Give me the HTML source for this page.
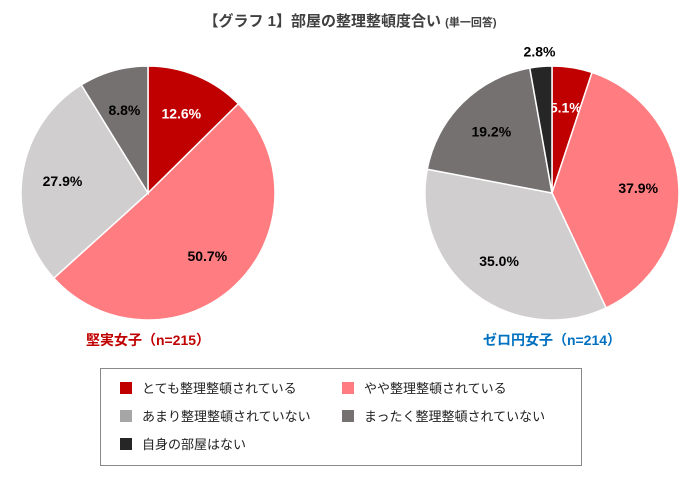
<!DOCTYPE html>
<html><head><meta charset="utf-8"><style>
body{margin:0;background:#fff;font-family:"Liberation Sans","Noto Sans CJK JP",sans-serif;}
#wrap{position:relative;width:700px;height:489px;overflow:hidden;}
.lg{position:absolute;font-size:13px;color:#222;display:flex;align-items:center;}
.lg i{display:inline-block;width:12px;height:12px;margin-right:10px;}
</style></head><body>
<div id="wrap">
<div style="position:absolute;left:0;width:700px;top:10px;text-align:center;font-weight:bold;font-size:15px;color:#404040;">【グラフ 1】部屋の整理整頓度合い <span style="font-size:11px">(単一回答)</span></div>
<svg id="svg" width="700" height="489" style="position:absolute;left:0;top:0"></svg>
<div style="position:absolute;left:48px;width:200px;top:330px;text-align:center;font-weight:bold;font-size:14px;color:#c00000;">堅実女子（n=215）</div>
<div style="position:absolute;left:452px;width:200px;top:330px;text-align:center;font-weight:bold;font-size:14px;color:#0070c0;">ゼロ円女子（n=214）</div>
<div style="position:absolute;left:100px;top:368px;width:482px;height:98px;border:1px solid #888;box-sizing:border-box;"></div>
<div class="lg" style="left:120px;top:378px"><i style="background:#c00000"></i>とても整理整頓されている</div>
<div class="lg" style="left:342px;top:378px"><i style="background:#ff7c80"></i>やや整理整頓されている</div>
<div class="lg" style="left:120px;top:406px"><i style="background:#a6a6a6"></i>あまり整理整頓されていない</div>
<div class="lg" style="left:342px;top:406px"><i style="background:#767171"></i>まったく整理整頓されていない</div>
<div class="lg" style="left:120px;top:434px"><i style="background:#262626"></i>自身の部屋はない</div>
</div>
<script>
const categories=["とても整理整頓されている","やや整理整頓されている","あまり整理整頓されていない","まったく整理整頓されていない","自身の部屋はない"];
const leftValues=[12.6,50.7,27.9,8.8];
const rightValues=[5.1,37.9,35.0,19.2,2.8];
const colors=["#c00000","#ff7c80","#d0cece","#767171","#262626"];
const labelColors=["#fff","#000","#000","#000","#000"];
const svg=document.getElementById('svg');
const NS="http://www.w3.org/2000/svg";
function pie(vals,cx,cy,r,name){
  const tot=vals.reduce((a,b)=>a+b,0);let a0=0;
  vals.forEach((v,i)=>{
    const a1=a0+v/tot*2*Math.PI;
    const p=document.createElementNS(NS,'path');
    const x0=cx+r*Math.sin(a0),y0=cy-r*Math.cos(a0),x1=cx+r*Math.sin(a1),y1=cy-r*Math.cos(a1);
    p.setAttribute('d',`M${cx},${cy}L${x0},${y0}A${r},${r} 0 ${a1-a0>Math.PI?1:0} 1 ${x1},${y1}Z`);
    p.setAttribute('fill',colors[i]);p.setAttribute('stroke','#fff');p.setAttribute('stroke-width','1.5');
    
    
    svg.appendChild(p);
    const am=(a0+a1)/2,small=v<3,f=small?1.12:0.68;
    const t=document.createElementNS(NS,'text');
    t.setAttribute('x',cx+r*f*Math.sin(am));t.setAttribute('y',cy-r*f*Math.cos(am)+5);
    t.setAttribute('text-anchor','middle');t.setAttribute('font-size','14');t.setAttribute('font-weight','bold');
    t.setAttribute('fill',small?'#000':labelColors[i]);
    t.textContent=v.toFixed(1)+'%';
    
    
    svg.appendChild(t);
    a0=a1;
  });
}
pie(leftValues,148,193,127,'left-pie');
pie(rightValues,552,193,127,'right-pie');
</script>
</body></html>
